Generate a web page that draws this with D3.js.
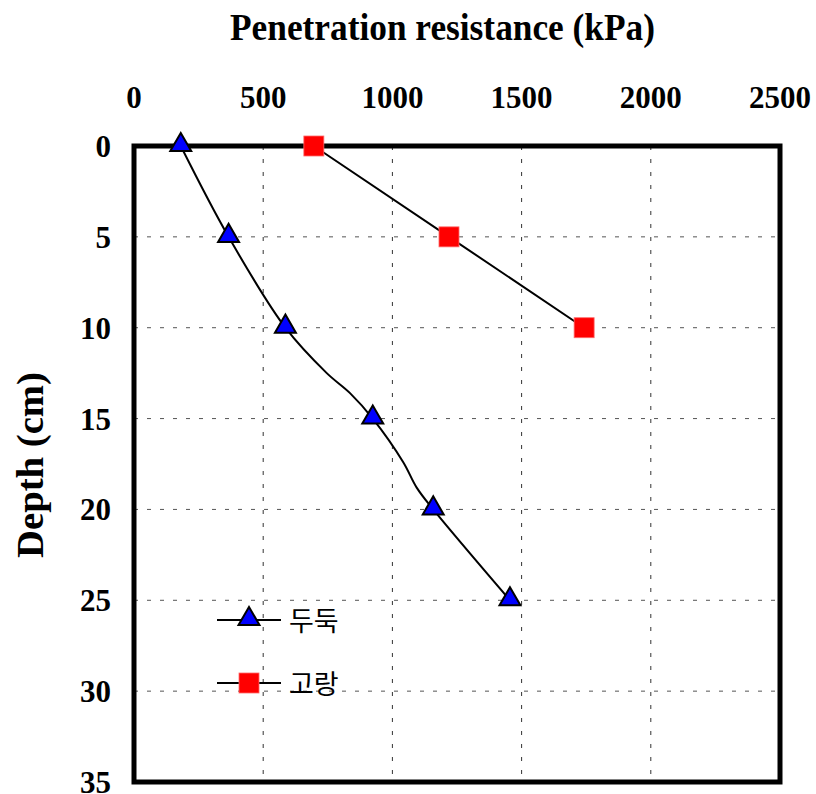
<!DOCTYPE html>
<html>
<head>
  <style>
    body{ margin:0; background:#fff; }
    .tick-label{ font-family:"Liberation Serif", serif; font-weight:bold; font-size:31px; fill:#000; }
    .axis-title{ font-family:"Liberation Serif", serif; font-weight:bold; font-size:37px; fill:#000; }
    .legend-label{ font-family:"Noto Sans CJK KR", sans-serif; font-size:27px; fill:#000; }
  </style>
  <script src="https://d3js.org/d3.v7.min.js"></script>
</head>
<body>
<div class="chart"></div>
<script>
// tick values
const xTicks = [0, 500, 1000, 1500, 2000, 2500];
const yTicks = [0, 5, 10, 15, 20, 25, 30, 35];

// 두둑 : marked points and the smoothed line drawn through extra points
const duduk = {name: '두둑', depth: [0, 5, 10, 15, 20, 25], value: [181, 366, 586, 924, 1158, 1455]};
const dudukLineDepth = [0, 5, 10, 12.5, 13.6, 15, 17.4, 18.8, 20, 25];
const dudukLineValue = [181, 366, 586, 746, 836, 924, 1042, 1094, 1158, 1455];

// 고랑
const gorang = {name: '고랑', depth: [0, 5, 10], value: [696, 1219, 1742]};

const width = 816, height = 794;
const plotLeft = 134, plotRight = 780, plotTop = 146, plotBottom = 782;

const svg = d3.select('.chart').append('svg')
  .attr('width', width)
  .attr('height', height);

const x = d3.scaleLinear().domain([0, 2500]).range([plotLeft, plotRight]);
const y = d3.scaleLinear().domain([0, 35]).range([plotTop, plotBottom]);

// grid
svg.append('g').selectAll('line')
  .data(xTicks.slice(1, -1))
  .join('line')
    .attr('x1', d => x(d)).attr('x2', d => x(d))
    .attr('y1', plotTop).attr('y2', plotBottom)
    .attr('stroke', '#333').attr('stroke-width', 1).attr('stroke-dasharray', '4,9');

svg.append('g').selectAll('line')
  .data(yTicks.slice(1, -1))
  .join('line')
    .attr('x1', plotLeft).attr('x2', plotRight)
    .attr('y1', d => y(d)).attr('y2', d => y(d))
    .attr('stroke', '#555').attr('stroke-width', 1).attr('stroke-dasharray', '4,9');

// tick labels
svg.append('g').selectAll('text')
  .data(xTicks)
  .join('text')
    .attr('class', 'tick-label')
    .attr('x', d => x(d))
    .attr('y', 108)
    .attr('text-anchor', 'middle')
    .text(d => d);

svg.append('g').selectAll('text')
  .data(yTicks)
  .join('text')
    .attr('class', 'tick-label')
    .attr('x', 111)
    .attr('y', d => y(d) + 11)
    .attr('text-anchor', 'end')
    .text(d => d);

// axis titles
svg.append('text')
  .attr('class', 'axis-title')
  .attr('x', 230).attr('y', 40)
  .attr('textLength', 425)
  .attr('lengthAdjust', 'spacingAndGlyphs')
  .text('Penetration resistance (kPa)');

svg.append('text')
  .attr('class', 'axis-title')
  .attr('transform', 'translate(43,558) rotate(-90)')
  .attr('textLength', 186)
  .attr('lengthAdjust', 'spacingAndGlyphs')
  .text('Depth (cm)');

// lines
const line = d3.line()
  .x(d => x(d[1]))
  .y(d => y(d[0]))
  .curve(d3.curveCatmullRom.alpha(0.5));

svg.append('path')
  .datum(d3.zip(dudukLineDepth, dudukLineValue))
  .attr('d', line)
  .attr('fill', 'none').attr('stroke', '#000').attr('stroke-width', 2);

svg.append('path')
  .datum(d3.zip(gorang.depth, gorang.value))
  .attr('d', d3.line().x(d => x(d[1])).y(d => y(d[0])))
  .attr('fill', 'none').attr('stroke', '#000').attr('stroke-width', 2);

// frame
svg.append('rect')
  .attr('x', plotLeft).attr('y', plotTop)
  .attr('width', plotRight - plotLeft).attr('height', plotBottom - plotTop)
  .attr('fill', 'none').attr('stroke', '#000').attr('stroke-width', 5);

// markers
const tri = d3.symbol().type(d3.symbolTriangle).size(190);

svg.append('g').selectAll('path')
  .data(d3.zip(duduk.depth, duduk.value))
  .join('path')
    .attr('d', tri)
    .attr('transform', d => `translate(${x(d[1])},${y(d[0]) - 1})`)
    .attr('fill', '#0000ff').attr('stroke', '#000').attr('stroke-width', 2);

svg.append('g').selectAll('rect')
  .data(d3.zip(gorang.depth, gorang.value))
  .join('rect')
    .attr('x', d => x(d[1]) - 10).attr('y', d => y(d[0]) - 10)
    .attr('width', 20).attr('height', 20)
    .attr('fill', '#ff0000').attr('stroke', '#ff6a6a').attr('stroke-width', 0.8);

// legend
const legend = svg.append('g').attr('transform', 'translate(217,620)');

legend.append('line').attr('x1', 0).attr('x2', 64).attr('y1', 0).attr('y2', 0)
  .attr('stroke', '#000').attr('stroke-width', 2);
legend.append('path').attr('d', tri).attr('transform', 'translate(32,-1)')
  .attr('fill', '#0000ff').attr('stroke', '#000').attr('stroke-width', 2);
legend.append('text').attr('class', 'legend-label').attr('x', 72).attr('y', 11).text(duduk.name);

legend.append('line').attr('x1', 0).attr('x2', 64).attr('y1', 63).attr('y2', 63)
  .attr('stroke', '#000').attr('stroke-width', 2);
legend.append('rect').attr('x', 22).attr('y', 53).attr('width', 20).attr('height', 20)
  .attr('fill', '#ff0000').attr('stroke', '#ff6a6a').attr('stroke-width', 0.8);
legend.append('text').attr('class', 'legend-label').attr('x', 72).attr('y', 74).text(gorang.name);
</script>
</body>
</html>
